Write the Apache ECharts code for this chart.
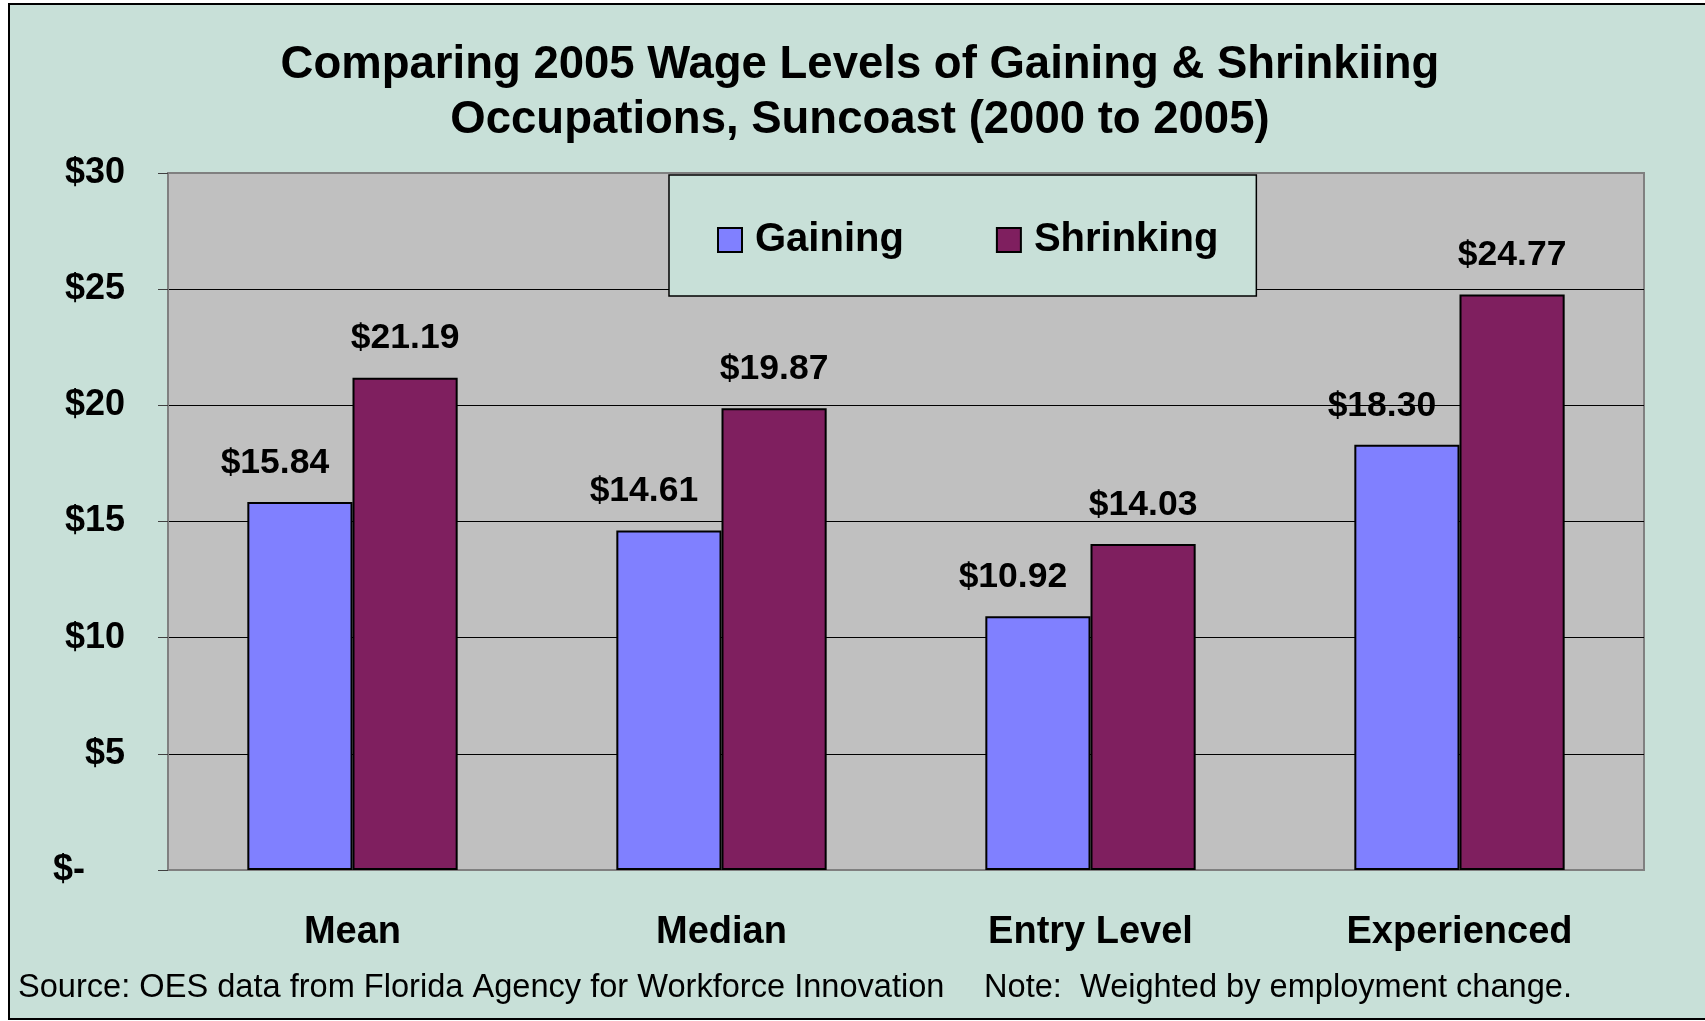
<!DOCTYPE html>
<html lang="en">
<head>
    <meta charset="UTF-8">
    <script src="https://cdn.jsdelivr.net/npm/echarts@6/dist/echarts.min.js"></script>
    <title>Wage Levels</title>
</head>
<body style="height: 100%; margin: 0">
<div id="container" style="width: 1705px; height: 1021px"></div>

<script>
    // data
    var categories = ['Mean', 'Median', 'Entry Level', 'Experienced'];
    var gaining = [15.84, 14.61, 10.92, 18.30];
    var shrinking = [21.19, 19.87, 14.03, 24.77];
    var seriesNames = ['Gaining', 'Shrinking'];

    var teal = '#C8E0D8';
    var font = 'Liberation Sans, Arial, sans-serif';

    var dom = document.getElementById("container");
    var myChart = echarts.init(dom);

    var option = {
        backgroundColor: '#ffffff',
        animation: false,
        title: {
            text: 'Comparing 2005 Wage Levels of Gaining & Shrinkiing\nOccupations, Suncoast (2000 to 2005)',
            left: 860,
            top: 38,
            padding: 0,
            textAlign: 'center',
            textStyle: {
                fontFamily: font,
                fontSize: 45.5,
                fontWeight: 'bold',
                lineHeight: 55,
                color: '#000'
            }
        },
        legend: {
            data: seriesNames,
            left: 669,
            top: 175,
            padding: [45, 38, 36, 48],
            itemWidth: 24,
            itemHeight: 24,
            itemGap: 92,
            selectedMode: false,
            backgroundColor: teal,
            borderColor: '#000',
            borderWidth: 1.5,
            borderRadius: 0,
            icon: 'rect',
            textStyle: {
                fontFamily: font,
                fontSize: 40,
                fontWeight: 'bold',
                lineHeight: 40,
                color: '#000',
                padding: [0, 0, 0, 8]
            }
        },
        grid: {
            left: 168,
            right: 61,
            top: 173,
            bottom: 151,
            show: true,
            backgroundColor: '#C0C0C0',
            borderColor: '#808080',
            borderWidth: 2
        },
        xAxis: {
            type: 'category',
            data: categories,
            axisLine: {lineStyle: {color: '#808080', width: 2}},
            axisTick: {length: 12, lineStyle: {color: '#404040', width: 1}},
            axisLabel: {
                margin: 44,
                fontFamily: font,
                fontSize: 38,
                fontWeight: 'bold',
                color: '#000'
            }
        },
        yAxis: {
            type: 'value',
            min: 0,
            max: 30,
            interval: 5,
            axisLine: {show: true, lineStyle: {color: '#808080', width: 2}},
            axisTick: {show: true, length: 10, lineStyle: {color: '#404040', width: 1}},
            splitLine: {
                lineStyle: {
                    color: ['#000', '#000', '#000', '#000', '#000', '#000', '#808080'],
                    width: 1
                }
            },
            axisLabel: {
                margin: 43,
                fontFamily: font,
                fontSize: 36,
                fontWeight: 'bold',
                color: '#000',
                formatter: function (v) {
                    return v === 0 ? '$-    ' : '$' + v;
                }
            }
        },
        series: [
            {
                name: seriesNames[0],
                type: 'bar',
                data: gaining,
                barGap: '0%',
                barCategoryGap: '43%',
                itemStyle: {color: '#8080FF', borderColor: '#000', borderWidth: 2},
                label: {
                    show: true,
                    position: 'top',
                    distance: 21,
                    offset: [-25, 0],
                    fontFamily: font,
                    fontSize: 35.5,
                    fontWeight: 'bold',
                    color: '#000',
                    formatter: function (p) { return '$' + p.value.toFixed(2); }
                }
            },
            {
                name: seriesNames[1],
                type: 'bar',
                data: shrinking,
                barGap: '0%',
                barCategoryGap: '43%',
                itemStyle: {color: '#7F1F5F', borderColor: '#000', borderWidth: 2},
                label: {
                    show: true,
                    position: 'top',
                    distance: 21,
                    fontFamily: font,
                    fontSize: 35.5,
                    fontWeight: 'bold',
                    color: '#000',
                    formatter: function (p) { return '$' + p.value.toFixed(2); }
                }
            }
        ],
        graphic: [
            {
                type: 'rect',
                z: -100,
                silent: true,
                shape: {x: 9, y: 4, width: 1800, height: 1015},
                style: {fill: teal, stroke: '#000', lineWidth: 2}
            },
            {
                type: 'text',
                left: 18,
                top: 972,
                style: {
                    text: 'Source: OES data from Florida Agency for Workforce Innovation',
                    font: '32.6px ' + font,
                    fill: '#000'
                }
            },
            {
                type: 'text',
                left: 984,
                top: 972,
                style: {
                    text: 'Note:  Weighted by employment change.',
                    font: '32.6px ' + font,
                    fill: '#000'
                }
            }
        ]
    };

    myChart.setOption(option);
</script>
</body>
</html>
